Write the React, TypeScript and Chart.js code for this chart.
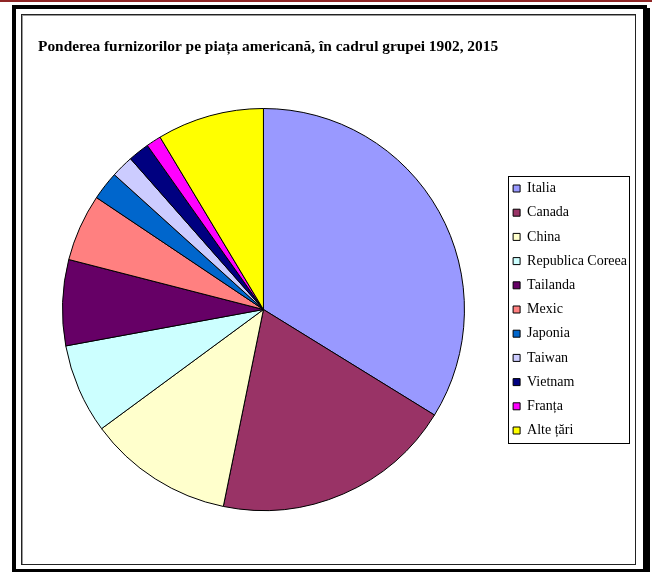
import React, { useEffect, useRef } from "react";
import { Chart, registerables } from "chart.js";

Chart.register(...registerables);

const TITLE = "Ponderea furnizorilor pe piața americană, în cadrul grupei 1902, 2015";
const categories = [
  "Italia",
  "Canada",
  "China",
  "Republica Coreea",
  "Tailanda",
  "Mexic",
  "Japonia",
  "Taiwan",
  "Vietnam",
  "Franța",
  "Alte țări",
];
const shares = [33.8, 19.4, 11.7, 7.2, 6.9, 5.4, 2.3, 1.8, 1.7, 1.2, 8.6];
const colors = [
  "#9999FF",
  "#993366",
  "#FFFFCC",
  "#CCFFFF",
  "#660066",
  "#FF8080",
  "#0066CC",
  "#CCCCFF",
  "#000080",
  "#FF00FF",
  "#FFFF00",
];

const SERIF = "'Times New Roman', 'Liberation Serif', serif";

const legendFramePlugin = {
  id: "legendFrame",
  afterLayout(chart: any) {
    if (chart.titleBlock) {
      chart.titleBlock.left = 38;
    }
  },
  afterDraw(chart: any) {
    const lg = chart.legend;
    if (!lg || !lg.legendHitBoxes || !lg.legendHitBoxes.length) return;
    const hb = lg.legendHitBoxes;
    let maxW = 0;
    hb.forEach((h: any) => (maxW = Math.max(maxW, h.width)));
    const first = hb[0];
    const last = hb[hb.length - 1];
    const x0 = Math.round(first.left - 5) + 0.5;
    const x1 = Math.round(first.left + maxW + 2) + 0.5;
    const y0 = Math.round(first.top - 6) + 0.5;
    const y1 = Math.round(last.top + last.height + 6) + 0.5;
    const ctx = chart.ctx;
    ctx.save();
    ctx.strokeStyle = "#000";
    ctx.lineWidth = 1;
    ctx.strokeRect(x0, y0, x1 - x0, y1 - y0);
    ctx.restore();
  },
};

export default function App() {
  const canvasRef = useRef<HTMLCanvasElement | null>(null);

  useEffect(() => {
    const canvas = canvasRef.current;
    if (!canvas) return;
    const chart = new Chart(canvas, {
      type: "pie",
      data: {
        labels: categories,
        datasets: [
          {
            data: shares,
            backgroundColor: colors,
            borderColor: "#000",
            borderWidth: 1,
          },
        ],
      },
      options: {
        responsive: false,
        animation: false,
        devicePixelRatio: 1,
        events: [],
        layout: {
          padding: { left: 24, right: 15, top: 20, bottom: 61 },
        },
        plugins: {
          title: {
            display: true,
            text: TITLE,
            align: "start",
            color: "#000",
            font: { family: SERIF, size: 15.4, weight: "bold" },
            padding: { top: 17.76, bottom: 51.76 },
          },
          legend: {
            display: true,
            position: "right",
            align: "center",
            fullSize: false,
            labels: {
              boxWidth: 7,
              boxHeight: 7,
              padding: 10.2,
              color: "#000",
              font: { family: SERIF, size: 14 },
            },
          },
          tooltip: { enabled: false },
        },
      },
      plugins: [legendFramePlugin],
    } as any);
    return () => chart.destroy();
  }, []);

  return (
    <div
      style={{
        position: "absolute",
        left: 0,
        top: 0,
        width: 652,
        height: 572,
        background: "#fff",
        overflow: "hidden",
      }}
    >
      <canvas
        ref={canvasRef}
        width={652}
        height={572}
        style={{ position: "absolute", left: 0, top: 0, width: 652, height: 572 }}
      />
      <div
        style={{
          position: "absolute",
          left: 0,
          top: 0,
          width: 652,
          height: 2,
          background: "#8f2525",
        }}
      />
      <div
        style={{
          position: "absolute",
          left: 12,
          top: 5,
          width: 635,
          height: 568,
          boxSizing: "border-box",
          border: "4px solid #000",
          boxShadow: "3px 3px 0 #000",
          pointerEvents: "none",
        }}
      />
      <div
        style={{
          position: "absolute",
          left: 21,
          top: 14,
          width: 615,
          height: 551,
          boxSizing: "border-box",
          border: "1px solid #222",
          boxShadow: "inset 1px 1px 0 #999",
          pointerEvents: "none",
        }}
      />
    </div>
  );
}
